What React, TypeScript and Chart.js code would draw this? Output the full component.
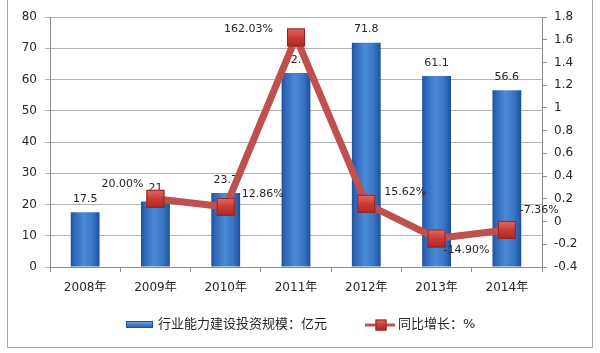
import React, { useEffect, useRef } from "react";
import { Chart, registerables } from "chart.js";

Chart.register(...registerables);

const categories = ["2008年", "2009年", "2010年", "2011年", "2012年", "2013年", "2014年"];
const investment = [17.5, 21, 23.7, 62.1, 71.8, 61.1, 56.6];
const growth: (number | null)[] = [null, 0.2, 0.1286, 1.6203, 0.1562, -0.149, -0.0736];
const leftTicks = [0, 10, 20, 30, 40, 50, 60, 70, 80];
const rightTicks = [-0.4, -0.2, 0, 0.2, 0.4, 0.6, 0.8, 1, 1.2, 1.4, 1.6, 1.8];
const barLegend = "行业能力建设投资规模：亿元";
const lineLegend = "同比增长：%";

const FONT = "'DejaVu Sans', 'Noto Sans CJK SC', sans-serif";
const TEXT = "#262626";

// label placement for growth labels: [align, dx, dy]
const growthLabelPlace: [CanvasTextAlign, number, number][] = [
  ["left", 0, 0],
  ["right", -12, -15],
  ["left", 16, -13],
  ["right", -23, -8],
  ["left", 18, -12],
  ["left", 7, 12],
  ["left", 13, -20],
];

function barGradient(ctx: CanvasRenderingContext2D, x0: number, x1: number) {
  const g = ctx.createLinearGradient(x0, 0, x1, 0);
  g.addColorStop(0, "#1d4f9a");
  g.addColorStop(0.12, "#2e66b8");
  g.addColorStop(0.45, "#4a8ad6");
  g.addColorStop(0.75, "#3a76c6");
  g.addColorStop(1, "#1d4f9a");
  return g;
}

function drawMarker(ctx: CanvasRenderingContext2D, x: number, y: number, s: number) {
  const g = ctx.createLinearGradient(0, y - s / 2, 0, y + s / 2);
  g.addColorStop(0, "#e06a66");
  g.addColorStop(0.5, "#cc3b36");
  g.addColorStop(1, "#a82a26");
  ctx.fillStyle = g;
  ctx.fillRect(x - s / 2, y - s / 2, s, s);
  ctx.strokeStyle = "#8e2723";
  ctx.lineWidth = 1;
  ctx.strokeRect(x - s / 2 + 0.5, y - s / 2 + 0.5, s - 1, s - 1);
}

export default function App() {
  const ref = useRef<HTMLCanvasElement | null>(null);

  useEffect(() => {
    if (!ref.current) return;

    const labelsPlugin = {
      id: "labelsPlugin",
      afterDatasetDraw(chart: any, args: any) {
        const ctx = chart.ctx as CanvasRenderingContext2D;
        const meta = chart.getDatasetMeta(args.index);
        ctx.save();
        ctx.font = `11px ${FONT}`;
        ctx.fillStyle = TEXT;
        ctx.textBaseline = "middle";
        if (args.index === 0) {
          ctx.textAlign = "center";
          meta.data.forEach((el: any, i: number) => {
            ctx.fillText(String(investment[i]), el.x, el.y - 13);
          });
        } else {
          meta.data.forEach((el: any, i: number) => {
            if (growth[i] === null) return;
            drawMarker(ctx, el.x, el.y, 18);
          });
          ctx.fillStyle = TEXT;
          meta.data.forEach((el: any, i: number) => {
            const v = growth[i];
            if (v === null) return;
            const [align, dx, dy] = growthLabelPlace[i];
            ctx.textAlign = align;
            ctx.fillText((v * 100).toFixed(2) + "%", el.x + dx, el.y + dy);
          });
        }
        ctx.restore();
      },
      afterDraw(chart: any) {
        const ctx = chart.ctx as CanvasRenderingContext2D;
        ctx.save();
        ctx.strokeStyle = "#a6a6a6";
        ctx.lineWidth = 1;
        ctx.beginPath();
        ctx.moveTo(7.5, 0);
        ctx.lineTo(7.5, 347.5);
        ctx.lineTo(592.5, 347.5);
        ctx.lineTo(592.5, 0);
        ctx.stroke();
        const ly = 325;
        const g = ctx.createLinearGradient(0, ly - 4, 0, ly + 4);
        g.addColorStop(0, "#7fb0ea");
        g.addColorStop(0.5, "#3d7bcb");
        g.addColorStop(1, "#1d4f9a");
        ctx.fillStyle = g;
        ctx.fillRect(126, ly - 4, 27, 7);
        ctx.strokeStyle = "#1d4f9a";
        ctx.strokeRect(126.5, ly - 3.5, 26, 6);
        ctx.font = `13px ${FONT}`;
        ctx.fillStyle = TEXT;
        ctx.textAlign = "left";
        ctx.textBaseline = "middle";
        ctx.fillText(barLegend, 158, ly);
        ctx.strokeStyle = "#c0504d";
        ctx.lineWidth = 3;
        ctx.beginPath();
        ctx.moveTo(365, ly);
        ctx.lineTo(395, ly);
        ctx.stroke();
        drawMarker(ctx, 381, ly, 11);
        ctx.fillStyle = TEXT;
        ctx.fillText(lineLegend, 398, ly);
        ctx.restore();
      },
    };

    const chart = new Chart(ref.current, {
      data: {
        labels: categories,
        datasets: [
          {
            type: "bar",
            label: barLegend,
            data: investment,
            yAxisID: "y",
            order: 2,
            barPercentage: 0.41,
            categoryPercentage: 1,
            borderWidth: 0,
            backgroundColor: (c: any) => {
              const xs = c.chart.scales && c.chart.scales.x;
              if (!xs || c.dataIndex === undefined) return "#3a76c6";
              const cx = xs.getPixelForValue(c.dataIndex);
              if (!Number.isFinite(cx)) return "#3a76c6";
              const w = 14.5;
              return barGradient(c.chart.ctx, cx - w, cx + w);
            },
          },
          {
            type: "line",
            label: lineLegend,
            data: growth,
            yAxisID: "y1",
            order: 1,
            borderColor: "#c0504d",
            borderWidth: 7,
            pointRadius: 0,
            pointHoverRadius: 0,
            spanGaps: false,
            tension: 0,
          },
        ],
      },
      options: {
        responsive: false,
        animation: false,
        events: [],
        layout: { padding: { left: 0, right: 0, top: 17, bottom: 46 } },
        plugins: { legend: { display: false }, tooltip: { enabled: false } },
        scales: {
          x: {
            grid: {
              drawOnChartArea: false,
              drawTicks: true,
              tickLength: 5,
              color: "#8c8c8c",
            },
            border: { color: "#8c8c8c" },
            ticks: { color: TEXT, font: { family: FONT, size: 12 }, padding: 9 },
            afterFit: (s: any) => {
              s.height = 40;
            },
          },
          y: {
            position: "left",
            min: 0,
            max: 80,
            afterBuildTicks: (s: any) => {
              s.ticks = leftTicks.map((v) => ({ value: v }));
            },
            grid: { color: "#b3b3b3", tickLength: 5 },
            border: { color: "#8c8c8c" },
            ticks: { color: TEXT, font: { family: FONT, size: 12 }, padding: 8 },
            afterFit: (s: any) => {
              s.width = 50;
            },
          },
          y1: {
            position: "right",
            min: -0.4,
            max: 1.8,
            afterBuildTicks: (s: any) => {
              s.ticks = rightTicks.map((v) => ({ value: v }));
            },
            grid: { drawOnChartArea: false, color: "#8c8c8c", tickLength: 5 },
            border: { color: "#8c8c8c" },
            ticks: {
              color: TEXT,
              font: { family: FONT, size: 12 },
              padding: 7,
              callback: (v: any) => String(Math.round(Number(v) * 10) / 10),
            },
            afterFit: (s: any) => {
              s.width = 58;
            },
          },
        },
      } as any,
      plugins: [labelsPlugin],
    } as any);

    return () => chart.destroy();
  }, []);

  return (
    <div style={{ position: "fixed", left: 0, top: 0, width: 600, height: 353, background: "#fff" }}>
      <canvas ref={ref} width={600} height={353} style={{ display: "block" }} />
    </div>
  );
}
